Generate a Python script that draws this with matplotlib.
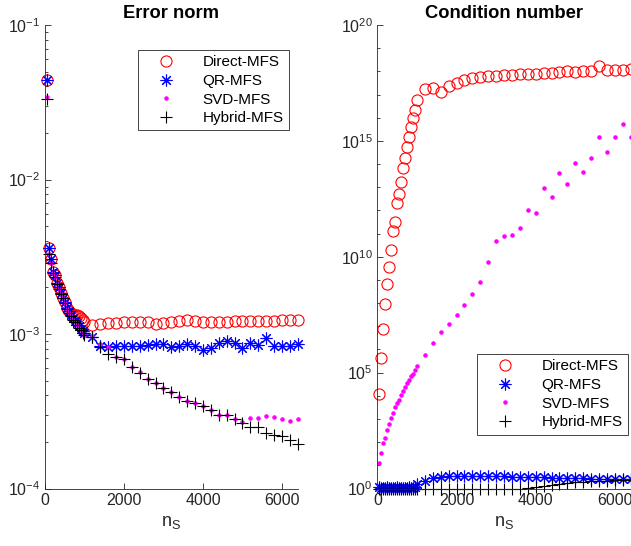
import numpy as np
import matplotlib
matplotlib.use("Agg")
import matplotlib.pyplot as plt
from matplotlib.ticker import LogLocator, NullFormatter, FixedLocator

# number of source points
n_S = [50, 100, 150, 200, 250, 300, 350, 400, 450, 500,
       550, 600, 650, 700, 750, 800, 850, 900, 950, 1000,
       1200, 1400, 1600, 1800, 2000, 2200, 2400, 2600, 2800, 3000,
       3200, 3400, 3600, 3800, 4000, 4200, 4400, 4600, 4800, 5000,
       5200, 5400, 5600, 5800, 6000, 6200, 6400]

# error norm
err_direct = [4.4e-2, 3.61e-3, 3.05e-3, 2.52e-3, 2.42e-3, 2.15e-3, 2.0e-3, 1.85e-3, 1.72e-3, 1.60e-3,
              1.48e-3, 1.40e-3, 1.36e-3, 1.33e-3, 1.33e-3, 1.32e-3, 1.30e-3, 1.27e-3, 1.24e-3, 1.20e-3,
              1.14e-3, 1.16e-3, 1.17e-3, 1.18e-3, 1.19e-3, 1.19e-3, 1.20e-3, 1.19e-3, 1.16e-3, 1.18e-3,
              1.19e-3, 1.21e-3, 1.23e-3, 1.21e-3, 1.19e-3, 1.19e-3, 1.20e-3, 1.19e-3, 1.21e-3, 1.21e-3,
              1.22e-3, 1.22e-3, 1.21e-3, 1.22e-3, 1.23e-3, 1.23e-3, 1.24e-3]
err_qr = [4.4e-2, 3.61e-3, 3.05e-3, 2.52e-3, 2.40e-3, 2.15e-3, 2.0e-3, 1.85e-3, 1.72e-3, 1.60e-3,
          1.48e-3, 1.40e-3, 1.33e-3, 1.27e-3, 1.22e-3, 1.17e-3, 1.12e-3, 1.08e-3, 1.04e-3, 1.01e-3,
          9.6e-4, 8.4e-4, 8.3e-4, 8.4e-4, 8.4e-4, 8.33e-4, 8.41e-4, 8.54e-4, 8.67e-4, 8.67e-4,
          8.2e-4, 8.33e-4, 8.63e-4, 8.41e-4, 7.92e-4, 8.1e-4, 8.75e-4, 8.98e-4, 8.75e-4, 8.1e-4,
          8.75e-4, 8.54e-4, 9.44e-4, 8.33e-4, 8.41e-4, 8.41e-4, 8.67e-4]
err_svd = [3.4e-2, 3.3e-3, 2.9e-3, 2.5e-3, 2.35e-3, 2.12e-3, 1.97e-3, 1.82e-3, 1.70e-3, 1.58e-3,
           1.46e-3, 1.37e-3, 1.30e-3, 1.24e-3, 1.19e-3, 1.14e-3, 1.10e-3, 1.06e-3, 1.02e-3, 9.9e-4,
           9.7e-4, 8.6e-4, 8.3e-4, 7.1e-4, 6.9e-4, 6.1e-4, 5.7e-4, 5.1e-4, 4.8e-4, 4.5e-4,
           4.2e-4, 3.9e-4, 3.7e-4, 3.6e-4, 3.4e-4, 3.2e-4, 3.0e-4, 2.98e-4, 2.8e-4, 2.7e-4,
           2.85e-4, 2.87e-4, 2.93e-4, 2.9e-4, 2.8e-4, 2.72e-4, 2.83e-4]
err_hybrid = [3.33e-2, 3.3e-3, 2.9e-3, 2.5e-3, 2.35e-3, 2.12e-3, 1.97e-3, 1.82e-3, 1.70e-3, 1.58e-3,
              1.46e-3, 1.37e-3, 1.30e-3, 1.24e-3, 1.19e-3, 1.14e-3, 1.10e-3, 1.06e-3, 1.02e-3, 9.9e-4,
              9.5e-4, 8.3e-4, 7.4e-4, 7.1e-4, 6.9e-4, 6.1e-4, 5.6e-4, 5.1e-4, 4.8e-4, 4.5e-4,
              4.2e-4, 3.9e-4, 3.7e-4, 3.6e-4, 3.4e-4, 3.2e-4, 3.0e-4, 2.98e-4, 2.8e-4, 2.65e-4,
              2.5e-4, 2.5e-4, 2.3e-4, 2.22e-4, 2.18e-4, 2.06e-4, 1.93e-4]

# condition number
cond_direct = [1.15e4, 4.47e5, 7.41e6, 8.71e7, 6.61e8, 3.63e9, 2.04e10, 1.26e11, 3.31e11, 2.0e12,
               4.9e12, 1.66e13, 6.61e13, 1.91e14, 5.37e14, 1.51e15, 4.07e15, 1.02e16, 2.09e16, 5.75e16,
               1.66e17, 2.0e17, 1.32e17, 2.4e17, 3.16e17, 4.17e17, 5.25e17, 5.75e17, 6.03e17, 6.31e17,
               6.92e17, 7.24e17, 7.59e17, 7.59e17, 7.94e17, 8.32e17, 8.32e17, 9.55e17, 1.0e18, 9.12e17,
               1.05e18, 1.05e18, 1.66e18, 1.10e18, 1.12e18, 1.15e18, 1.26e18]
cond_qr = [1.12, 1.1, 1.08, 1.1, 1.12, 1.1, 1.08, 1.1, 1.1, 1.12,
           1.1, 1.1, 1.08, 1.1, 1.1, 1.12, 1.1, 1.1, 1.15, 1.6,
           2.1, 2.8, 3.2, 3.3, 3.3, 3.4, 3.4, 3.4, 3.3, 3.3,
           3.3, 3.2, 3.2, 3.1, 3.0, 3.0, 2.9, 2.9, 2.8, 2.8,
           2.8, 2.7, 2.7, 2.7, 2.7, 2.7, 2.7]
cond_svd = [12.6, 34.7, 93.3, 158, 331, 631, 1.05e3, 1.82e3, 3.31e3, 4.68e3,
            6.92e3, 1.10e4, 1.58e4, 2.45e4, 3.63e4, 5.01e4, 7.08e4, 9.12e4, 1.26e5, 1.91e5,
            5.5e5, 1.91e6, 5.75e6, 1.23e7, 3.02e7, 7.94e7, 2.45e8, 8.32e8, 6.03e9, 4.9e10,
            7.59e10, 9.12e10, 1.70e11, 1.05e12, 7.59e11, 8.91e12, 3.63e12, 3.98e13, 1.32e13, 1.07e14,
            4.47e13, 1.82e14, 1.51e15, 3.39e14, 1.45e15, 5.5e15, 1.45e15]
cond_hybrid = [1.0, 1.0, 1.0, 1.0, 1.0, 1.0, 1.0, 1.0, 1.0, 1.0,
               1.0, 1.0, 1.0, 1.0, 1.0, 1.0, 1.0, 1.0, 1.0, 1.0,
               1.0, 1.0, 1.0, 1.0, 1.0, 1.0, 1.0, 1.0, 1.0, 1.0,
               1.0, 1.0, 1.0, 1.05, 1.15, 1.3, 1.45, 1.6, 1.75, 1.85,
               1.95, 2.05, 2.15, 2.2, 2.3, 2.35, 2.4]

labels = ['Direct-MFS', 'QR-MFS', 'SVD-MFS', 'Hybrid-MFS']

plt.rcParams['font.family'] = ['Liberation Sans', 'DejaVu Sans']
plt.rcParams['mathtext.fontset'] = 'custom'
plt.rcParams['mathtext.rm'] = 'Liberation Sans'
plt.rcParams['mathtext.default'] = 'regular'

GRAY = '#262626'
asterisk = (8, 2, 0)


def styled_axes(ax):
    ax.set_yscale('log')
    ax.spines['top'].set_visible(False)
    ax.spines['right'].set_visible(False)
    for s in ('left', 'bottom'):
        ax.spines[s].set_color(GRAY)
        ax.spines[s].set_linewidth(0.6)
    ax.tick_params(which='both', direction='in', colors=GRAY, labelsize=11.5,
                   width=0.6, labelcolor=GRAY)
    ax.tick_params(which='major', length=4)
    ax.tick_params(which='minor', length=2.5)
    ax.tick_params(axis='x', which='minor', bottom=False)
    ax.set_xlim(0, 6400)
    ax.xaxis.set_major_locator(FixedLocator([0, 2000, 4000, 6000]))
    ax.set_xlabel(r'n$_\mathregular{S}$', fontsize=13, color=GRAY, labelpad=4)


def draw(ax, d, q, s, h):
    ax.plot(n_S, d, 'o', ls='none', mfc='none', mec='red', ms=8, mew=0.8, clip_on=False, label=labels[0])
    ax.plot(n_S, q, marker=asterisk, ls='none', color='blue', mec='blue', ms=8.5, mew=0.8, clip_on=False, label=labels[1])
    ax.plot(n_S, s, '.', ls='none', color='magenta', ms=4.5, clip_on=False, label=labels[2])
    ax.plot(n_S, h, '+', ls='none', color='black', ms=8.5, mew=0.8, clip_on=False, label=labels[3])


fig = plt.figure(figsize=(6.31, 5.46), dpi=100)
ax1 = fig.add_axes([0.0713, 0.1053, 0.4006, 0.8489])
ax2 = fig.add_axes([0.598, 0.1053, 0.4016, 0.8489])

styled_axes(ax1)
draw(ax1, err_direct, err_qr, err_svd, err_hybrid)
ax1.set_ylim(1e-4, 1e-1)
ax1.yaxis.set_major_locator(LogLocator(base=10, numticks=10))
ax1.yaxis.set_minor_locator(LogLocator(base=10, subs=np.arange(2, 10), numticks=20))
ax1.yaxis.set_minor_formatter(NullFormatter())
ax1.set_title('Error norm', fontsize=13.2, fontweight='bold', pad=5)
leg1 = ax1.legend(loc='upper right', bbox_to_anchor=(0.965, 0.946), fontsize=11,
                  fancybox=False, framealpha=1, edgecolor=GRAY, borderpad=0.35,
                  handlelength=3.0, handletextpad=0.9, labelspacing=0.3, borderaxespad=0)
leg1.get_frame().set_linewidth(0.6)

styled_axes(ax2)
draw(ax2, cond_direct, cond_qr, cond_svd, cond_hybrid)
ax2.set_ylim(1, 1e20)
ax2.yaxis.set_major_locator(FixedLocator([1e0, 1e5, 1e10, 1e15, 1e20]))
ax2.yaxis.set_minor_locator(FixedLocator([10.0 ** k for k in range(21) if k % 5]))
ax2.yaxis.set_minor_formatter(NullFormatter())
ax2.set_title('Condition number', fontsize=13.2, fontweight='bold', pad=5)
leg2 = ax2.legend(loc='upper right', bbox_to_anchor=(0.989, 0.290), fontsize=11,
                  fancybox=False, framealpha=1, edgecolor=GRAY, borderpad=0.35,
                  handlelength=3.0, handletextpad=0.9, labelspacing=0.3, borderaxespad=0)
leg2.get_frame().set_linewidth(0.6)

fig.savefig('out.png', dpi=100)
